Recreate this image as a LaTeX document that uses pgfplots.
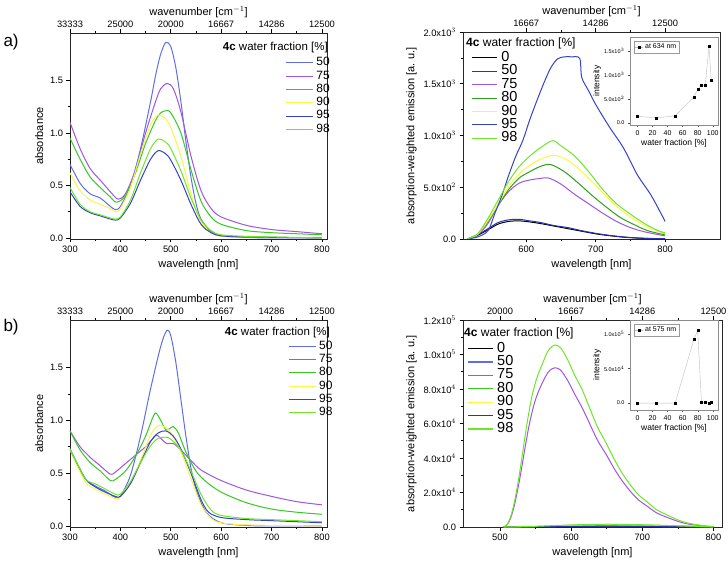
\documentclass[border=0pt]{standalone}
\usepackage{fontspec}
\setmainfont{Liberation Sans}
\usepackage{pgfplots}
\pgfplotsset{compat=1.18}
\definecolor{cA}{RGB}{95,110,230}
\definecolor{cB}{RGB}{160,85,225}
\definecolor{cC}{RGB}{55,200,35}
\definecolor{cD}{RGB}{250,245,70}
\definecolor{cE}{RGB}{55,65,205}
\definecolor{cF}{RGB}{110,230,40}
\definecolor{cN}{RGB}{45,50,170}
\pgfplotsset{
  every axis/.append style={/pgf/number format/assume math mode=true},
  mainax/.style={scale only axis, anchor=south west, tick align=outside,
    xtick pos=left, ytick pos=left, minor tick num=1,
    major tick length=3.5pt, minor tick length=2pt,
    tick style={black, line width=0.6pt},
    axis line style={black!85, line width=0.7pt},
    ticklabel style={font=\fontsize{9.3}{9.3}\selectfont},
    label style={font=\fontsize{11}{11}\selectfont},
    every axis plot/.append style={line width=1pt, smooth, tension=0.5},
    legend cell align=left},
  topax/.style={scale only axis, anchor=south west, tick align=outside,
    axis x line*=top, axis y line=none, ymin=0, ymax=1, minor x tick num=1,
    major tick length=3.5pt, minor tick length=2pt,
    tick style={black, line width=0.6pt},
    axis line style={black!85, line width=0.7pt},
    ticklabel style={font=\fontsize{9.3}{9.3}\selectfont},
    xticklabel style={yshift=-1.5pt},
    label style={font=\fontsize{11}{11}\selectfont},
    xlabel style={yshift=-4pt}},
  insetax/.style={scale only axis, anchor=south west, tick align=outside,
    xtick pos=left, ytick pos=left, axis background/.style={fill=white},
    major tick length=2pt, tick style={black!70, line width=0.4pt},
    axis line style={black!45, line width=0.5pt},
    xmin=-10, xmax=107, xtick={0,20,...,100},
    ticklabel style={font=\fontsize{7}{7}\selectfont},
    yticklabel style={font=\fontsize{5.5}{5.5}\selectfont},
    label style={font=\fontsize{8.5}{8.5}\selectfont},
    xlabel={water fraction [\%]}, ylabel={intensity},
    xlabel style={yshift=3pt}, ylabel style={yshift=-4pt},
    legend style={draw=black!40, line width=0.4pt, font=\fontsize{7}{7}\selectfont, at={(0.04,0.96)}, anchor=north west, inner sep=1pt},
    legend image code/.code={\draw[#1, mark repeat=2, mark phase=2] plot coordinates {(0pt,0pt) (4pt,0pt) (8pt,0pt)};}},
  leftleg/.style={legend style={draw=none, fill=none, font=\fontsize{12}{12}\selectfont,
    row sep=0pt, column sep=3pt, inner sep=0pt,
    nodes={inner sep=0pt, text height=9.5pt, text depth=3.8pt}},
    legend image code/.code={\path[draw=none, fill=none] (0pt,-4.3pt) rectangle (27pt,4.3pt); \draw[#1, line width=1.1pt] (0pt,0pt) -- (27pt,0pt);}},
  rightleg/.style={legend style={draw=none, fill=none, font=\fontsize{14.5}{14.5}\selectfont,
    row sep=0pt, column sep=4pt, inner sep=0pt,
    nodes={inner sep=0pt, text height=10.2pt, text depth=3.2pt}},
    legend image code/.code={\path[draw=none, fill=none] (0pt,-5pt) rectangle (25pt,5pt); \draw[#1, line width=1.1pt] (0pt,0pt) -- (25pt,0pt);}},
}
\begin{document}
\begin{tikzpicture}
% ================= panel a left =================
\begin{axis}[mainax, at={(70pt,323pt)}, width=257pt, height=206pt,
  xmin=300, xmax=810, ymin=-0.01, ymax=1.95,
  xtick={300,400,...,800}, ytick={0,0.5,1,1.5},
  yticklabel style={/pgf/number format/.cd, fixed, fixed zerofill, precision=1},
  xlabel={wavelength [nm]}, ylabel={absorbance},
  leftleg, legend style={at={(0.837,0.888)}, anchor=north west}]
\addplot[cA] coordinates {(300,0.70)(320,0.52)(340,0.42)(360,0.38)(380,0.30)(390,0.27)(400,0.30)(420,0.50)(440,0.85)(460,1.30)(470,1.55)(480,1.75)(490,1.86)(500,1.82)(510,1.62)(520,1.30)(530,0.92)(540,0.58)(550,0.33)(560,0.18)(580,0.06)(600,0.02)(650,0.005)(700,0)(800,0)};
\addplot[cB] coordinates {(300,1.10)(320,0.85)(340,0.66)(360,0.55)(380,0.44)(395,0.37)(410,0.42)(430,0.65)(450,1.00)(470,1.30)(480,1.42)(493,1.47)(505,1.42)(520,1.20)(540,0.78)(560,0.45)(580,0.28)(600,0.20)(650,0.12)(700,0.08)(750,0.06)(800,0.04)};
\addplot[cC] coordinates {(300,0.95)(320,0.75)(340,0.58)(360,0.48)(380,0.39)(392,0.34)(410,0.40)(430,0.62)(450,0.90)(470,1.12)(480,1.19)(490,1.21)(500,1.19)(520,1.00)(540,0.65)(560,0.35)(580,0.20)(600,0.13)(650,0.07)(700,0.05)(750,0.04)(800,0.03)};
\addplot[cD] coordinates {(300,0.62)(320,0.45)(340,0.36)(360,0.32)(380,0.28)(390,0.25)(400,0.28)(420,0.48)(440,0.80)(460,1.08)(475,1.17)(490,1.13)(500,1.05)(520,0.78)(540,0.42)(560,0.15)(580,0.05)(600,0.02)(650,0.01)(800,0)};
\addplot[cE] coordinates {(300,0.44)(320,0.30)(340,0.24)(360,0.21)(380,0.18)(390,0.17)(400,0.19)(420,0.33)(440,0.55)(460,0.75)(475,0.83)(490,0.80)(500,0.74)(520,0.55)(540,0.32)(560,0.13)(580,0.05)(600,0.02)(650,0.01)(800,0)};
\addplot[cF] coordinates {(300,0.48)(320,0.32)(340,0.25)(360,0.22)(380,0.19)(390,0.18)(400,0.20)(420,0.36)(440,0.62)(460,0.85)(475,0.94)(490,0.91)(500,0.85)(520,0.64)(540,0.38)(560,0.17)(580,0.07)(600,0.03)(650,0.015)(700,0.01)(800,0)};
\legend{50,75,80,90,95,98}
\end{axis}
\begin{axis}[topax, at={(70pt,323pt)}, width=257pt, height=206pt, xmin=300, xmax=810,
  xtick={300,400,...,800}, xticklabels={33333,25000,20000,16667,14286,12500},
  xlabel={wavenumber [cm$^{-1}$]}]
\end{axis}
% ================= panel a right =================
\begin{axis}[mainax, at={(463pt,323pt)}, width=257pt, height=207pt,
  xmin=509, xmax=879, ymin=0, ymax=2000,
  xtick={600,700,800}, ytick={0,500,1000,1500,2000},
  yticklabels={0.0,5.0x10$^2$,1.0x10$^3$,1.5x10$^3$,2.0x10$^3$},
  xlabel={wavelength [nm]}, ylabel={absorption-weighted emission [a. u.]},
  rightleg, legend style={at={(0.031,0.908)}, anchor=north west}]
\addplot[black] coordinates {(515,0)(530,35)(545,90)(560,145)(575,170)(590,175)(605,165)(620,150)(640,125)(660,100)(680,75)(700,50)(720,32)(740,18)(760,9)(780,4)(800,2)};
\addplot[cN] coordinates {(515,0)(530,40)(545,100)(560,160)(575,185)(590,190)(605,175)(620,160)(640,130)(660,110)(680,80)(700,55)(720,35)(740,20)(760,10)(780,5)(800,3)};
\addplot[cB] coordinates {(515,0)(530,40)(545,150)(560,330)(575,460)(590,540)(605,570)(620,585)(632,590)(650,530)(670,430)(690,340)(710,250)(730,170)(750,110)(770,70)(800,30)};
\addplot[cC!80!black] coordinates {(515,0)(530,45)(545,170)(560,330)(575,480)(590,590)(605,650)(620,700)(635,720)(655,650)(675,540)(695,420)(715,310)(735,210)(755,140)(775,80)(800,40)};
\addplot[cD] coordinates {(515,0)(530,45)(545,180)(560,340)(575,510)(590,630)(605,710)(620,770)(640,810)(660,760)(680,650)(700,520)(720,380)(740,260)(760,170)(780,100)(800,50)};
\addplot[cE] coordinates {(515,0)(530,20)(545,80)(555,250)(565,420)(575,620)(585,800)(595,950)(605,1150)(615,1330)(625,1500)(635,1650)(645,1740)(655,1760)(665,1760)(677,1745)(680,1560)(690,1430)(700,1300)(720,1080)(740,880)(760,620)(780,420)(800,170)};
\addplot[cF] coordinates {(515,0)(530,50)(545,200)(560,380)(575,560)(590,700)(605,800)(620,880)(638,950)(650,900)(670,800)(690,650)(710,480)(730,340)(750,240)(770,150)(790,80)(800,60)};
\legend{0,50,75,80,90,95,98}
\end{axis}
\begin{axis}[topax, at={(463pt,323pt)}, width=257pt, height=207pt, xmin=509, xmax=879,
  xtick={600,700,800}, xticklabels={16667,14286,12500},
  xlabel={wavenumber [cm$^{-1}$]}]
\end{axis}
% inset a
\begin{axis}[insetax, at={(630pt,437pt)}, width=88pt, height=88pt,
  ymin=-40, ymax=1800, ytick={0,500,1000,1500},
  yticklabels={0.0,5.0x10$^2$,1.0x10$^3$,1.5x10$^3$}]
\addplot[black!25, line width=0.4pt, mark=square*, mark size=1pt, mark options={black, fill=black}] coordinates {(0,140)(25,110)(50,150)(75,550)(80,700)(85,800)(90,790)(95,1600)(98,900)};
\addlegendentry{at 634 nm}
\end{axis}
% ================= panel b left =================
\begin{axis}[mainax, at={(70pt,35pt)}, width=257pt, height=207pt,
  xmin=300, xmax=810, ymin=-0.01, ymax=1.95,
  xtick={300,400,...,800}, ytick={0,0.5,1,1.5},
  yticklabel style={/pgf/number format/.cd, fixed, fixed zerofill, precision=1},
  xlabel={wavelength [nm]}, ylabel={absorbance},
  leftleg, legend style={at={(0.848,0.906)}, anchor=north west}]
\addplot[cA] coordinates {(300,0.72)(330,0.45)(350,0.38)(370,0.33)(390,0.27)(400,0.28)(420,0.48)(440,0.85)(460,1.30)(480,1.70)(492,1.85)(500,1.80)(510,1.55)(520,1.20)(530,0.85)(540,0.55)(550,0.35)(570,0.13)(600,0.03)(650,0.005)(700,0)(800,0)};
\addplot[cB] coordinates {(300,0.90)(320,0.75)(340,0.65)(360,0.57)(380,0.49)(390,0.51)(410,0.59)(430,0.67)(450,0.75)(465,0.83)(472,0.86)(482,0.82)(492,0.78)(505,0.78)(520,0.72)(540,0.62)(560,0.53)(600,0.43)(650,0.34)(700,0.28)(750,0.23)(800,0.20)};
\addplot[cC] coordinates {(300,0.90)(320,0.72)(340,0.60)(360,0.52)(380,0.43)(390,0.44)(410,0.52)(430,0.66)(450,0.85)(462,1.00)(470,1.07)(480,1.00)(490,0.91)(497,0.92)(505,0.94)(515,0.88)(530,0.70)(550,0.52)(570,0.42)(600,0.32)(650,0.22)(700,0.16)(750,0.13)(800,0.11)};
\addplot[cD] coordinates {(300,0.72)(330,0.42)(350,0.35)(370,0.30)(390,0.26)(400,0.27)(420,0.40)(440,0.62)(460,0.86)(475,0.95)(490,0.93)(500,0.88)(520,0.70)(540,0.45)(560,0.20)(580,0.07)(600,0.03)(650,0.01)(800,0)};
\addplot[cE] coordinates {(300,0.73)(330,0.45)(350,0.37)(370,0.32)(390,0.28)(400,0.28)(420,0.40)(440,0.60)(460,0.80)(475,0.88)(490,0.90)(505,0.85)(520,0.73)(540,0.50)(560,0.25)(575,0.13)(600,0.08)(650,0.06)(700,0.05)(800,0.03)};
\addplot[cF] coordinates {(300,0.73)(330,0.45)(350,0.40)(370,0.35)(390,0.30)(400,0.30)(420,0.42)(440,0.60)(460,0.76)(475,0.83)(490,0.84)(500,0.82)(520,0.72)(540,0.52)(560,0.30)(580,0.15)(600,0.10)(650,0.07)(700,0.06)(800,0.04)};
\legend{50,75,80,90,95,98}
\end{axis}
\begin{axis}[topax, at={(70pt,35pt)}, width=257pt, height=207pt, xmin=300, xmax=810,
  xtick={300,400,...,800}, xticklabels={33333,25000,20000,16667,14286,12500},
  xlabel={wavenumber [cm$^{-1}$]}]
\end{axis}
% ================= panel b right =================
\begin{axis}[mainax, at={(463pt,35pt)}, width=259pt, height=207pt,
  xmin=448, xmax=812, ymin=0, ymax=120000,
  xtick={500,600,700,800}, ytick={0,20000,40000,60000,80000,100000,120000},
  yticklabels={0.0,2.0x10$^4$,4.0x10$^4$,6.0x10$^4$,8.0x10$^4$,1.0x10$^5$,1.2x10$^5$},
  scaled y ticks=false,
  xlabel={wavelength [nm]}, ylabel={absorption-weighted emission [a. u.]},
  rightleg, legend style={at={(0.015,0.895)}, anchor=north west}]
\addplot[black] coordinates {(505,0)(550,100)(600,250)(650,350)(700,300)(750,150)(800,50)};
\addplot[cA] coordinates {(505,0)(550,150)(600,400)(650,500)(700,400)(750,200)(800,50)};
\addplot[cB] coordinates {(505,0)(510,1300)(515,5200)(520,12200)(525,21900)(530,33200)(535,45500)(540,57000)(545,66500)(550,74000)(555,79500)(560,84000)(565,88000)(570,90800)(577,92300)(585,91000)(595,85000)(605,77000)(615,69500)(625,60800)(637,50300)(650,41500)(661,33500)(672,26600)(684,20300)(695,15600)(707,12000)(720,8200)(731,6200)(745,4000)(754,2800)(765,1700)(777,1000)(790,450)(800,200)};
\addplot[cC] coordinates {(505,0)(550,300)(600,900)(650,1300)(700,1100)(750,600)(800,100)};
\addplot[cD] coordinates {(505,0)(550,300)(600,1000)(650,1400)(700,1200)(750,600)(800,100)};
\addplot[cN] coordinates {(505,0)(550,150)(600,350)(650,450)(700,350)(750,150)(800,30)};
\addplot[cF] coordinates {(505,0)(510,1500)(515,6000)(520,14000)(525,25000)(530,38000)(535,52000)(540,65000)(545,76000)(550,84000)(555,90000)(560,95000)(565,100000)(570,103500)(577,105500)(585,104000)(595,97000)(605,88000)(615,80000)(625,70000)(637,58000)(650,48000)(661,39000)(672,31000)(684,24000)(695,18500)(707,14500)(720,10000)(731,7700)(745,5000)(754,3500)(765,2200)(777,1300)(790,600)(800,300)};
\addplot[cF] coordinates {(505,0)(550,400)(600,1200)(650,1600)(700,1300)(750,700)(800,150)};
\legend{0,50,75,80,90,95,98}
\end{axis}
\begin{axis}[topax, at={(463pt,35pt)}, width=259pt, height=207pt, xmin=448, xmax=812,
  xtick={500,600,700,800}, xticklabels={20000,16667,14286,12500},
  xlabel={wavenumber [cm$^{-1}$]}]
\end{axis}
% inset b
\begin{axis}[insetax, at={(630pt,152pt)}, width=88pt, height=90pt,
  ymin=-10000, ymax=120000, ytick={0,50000,100000}, scaled y ticks=false,
  yticklabels={0.0,5.0x10$^4$,1.0x10$^5$}]
\addplot[black!25, line width=0.4pt, mark=square*, mark size=1pt, mark options={black, fill=black}] coordinates {(0,0)(25,0)(50,0)(75,92000)(80,105000)(85,1000)(90,900)(95,400)(98,1200)};
\addlegendentry{at 575 nm}
\end{axis}
% ================= texts =================
\node[anchor=west, font=\fontsize{17}{17}\selectfont] at (0pt,520pt) {a)};
\node[anchor=west, font=\fontsize{17}{17}\selectfont] at (0pt,235pt) {b)};
\node[anchor=east, font=\fontsize{11.5}{11.5}\selectfont, inner sep=0pt] at (328pt,514pt) {\textbf{4c} water fraction [\%]};
\node[anchor=east, font=\fontsize{11.5}{11.5}\selectfont, inner sep=0pt] at (330pt,229.3pt) {\textbf{4c} water fraction [\%]};
\node[anchor=west, font=\fontsize{12}{12}\selectfont, inner sep=0pt] at (466pt,519pt) {\textbf{4c} water fraction [\%]};
\node[anchor=west, font=\fontsize{12}{12}\selectfont, inner sep=0pt] at (464pt,229pt) {\textbf{4c} water fraction [\%]};
\pgfresetboundingbox
\path[use as bounding box] (0pt,0pt) rectangle (728pt,562pt);
\end{tikzpicture}
\end{document}
